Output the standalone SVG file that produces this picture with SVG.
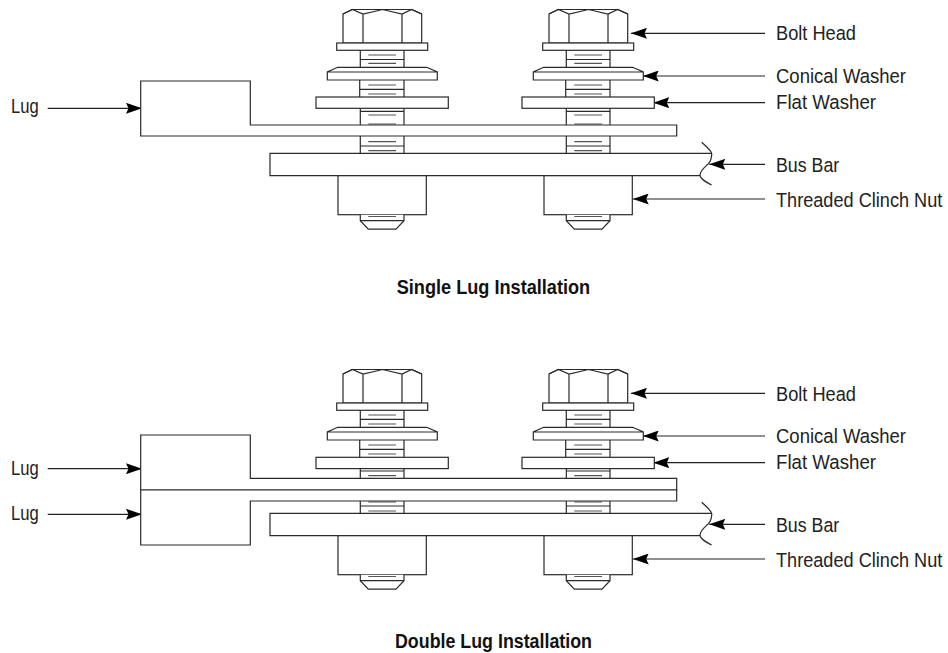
<svg xmlns="http://www.w3.org/2000/svg" xmlns:xlink="http://www.w3.org/1999/xlink" width="948" height="653" viewBox="0 0 948 653">
<style>
.s{fill:#fff;stroke:#2a2a2a;stroke-width:1.2;stroke-linejoin:miter}
.o{fill:none;stroke:#2a2a2a;stroke-width:1.2}
.t{fill:none;stroke:#555;stroke-width:1.2}
.c{fill:none;stroke:#222;stroke-width:1.2}
text{font-family:"Liberation Sans",Arial,sans-serif;font-size:20.500px;fill:#222}
.b{font-weight:bold;font-size:20px;fill:#111}
</style>
<defs>
<marker id="ah" viewBox="0 0 16 11" refX="16" refY="5.500" markerUnits="userSpaceOnUse" markerWidth="16" markerHeight="11" orient="auto"><path d="M0 0L16 5.500L0 11L2.500 5.500Z" fill="#000"/></marker>
<g id="head">
<path class="s" d="M343 14L352.300 9.500H411.700L421.700 14V43H343Z"/>
<path class="o" d="M343 14L352.300 9.500L363 14L382.500 9.500L402 14L411.700 9.500L421.700 14M363 14V43M402 14V43"/>
<rect class="s" x="336.700" y="43" width="91" height="7.300"/>
</g>
<path id="cone" class="s" d="M337.700 67.300H426.700L437.300 72V80H327.300V72ZM327.300 72H437.300"/>
<rect id="flat" class="s" x="316" y="97" width="132.300" height="11.300"/>
<g id="tail">
<rect class="s" x="338" y="0" width="88.300" height="39"/>
<path class="s" d="M360.300 39V45L368.300 53.500H396L404 45V39"/>
<path class="o" d="M360.300 45H404"/>
</g>
<path id="end" class="o" d="M701.700 142.300C707 147 711 151 711.700 153.300C712 158 710 162 709 163C705 167 700.500 170 700 175C700 179 706 182 711.700 185"/>
</defs>

<g id="connectors" class="arrows">
<path class="c" marker-end="url(#ah)" d="M765 33.300H631"/>
<path class="c" marker-end="url(#ah)" d="M765 76H642.700"/>
<path class="c" marker-end="url(#ah)" d="M765 102.700H653.300"/>
<path class="c" marker-end="url(#ah)" d="M765 164.300H709.300"/>
<path class="c" marker-end="url(#ah)" d="M765 199H632.700"/>
<path class="c" marker-end="url(#ah)" d="M47.700 108.300H142"/>
<path class="c" marker-end="url(#ah)" d="M765 393.300H631"/>
<path class="c" marker-end="url(#ah)" d="M765 436H642.700"/>
<path class="c" marker-end="url(#ah)" d="M765 462.700H653.300"/>
<path class="c" marker-end="url(#ah)" d="M765 524.300H709.300"/>
<path class="c" marker-end="url(#ah)" d="M765 559H632.700"/>
<path class="c" marker-end="url(#ah)" d="M47.700 468.700H142"/>
<path class="c" marker-end="url(#ah)" d="M47.700 514.300H142"/>
</g>

<g id="single-shanks">
<path id="sh1" class="o" d="M360.300 50V67M404 50V67M360.300 59.500H404M359.700 80V97M404 80V97M359.700 89.300H404M360.300 108V125M404 108V125M360.300 111.300H404M360.300 136V153.300M404 136V153.300M360.300 146H404"/>
<path id="th1" class="t" d="M368.300 55H396M368.300 63.300H396M368.300 85H396M368.300 94H396M368.300 115H396M368.300 124H396M368.300 141.700H396M368.300 150.700H396"/>
<use xlink:href="#sh1" x="206"/><use xlink:href="#th1" x="206"/>
</g>
<g id="single-bolt-1"><use xlink:href="#head"/><use xlink:href="#cone"/><use xlink:href="#flat"/></g>
<g id="single-bolt-2"><use xlink:href="#head" x="206"/><use xlink:href="#cone" x="206"/><use xlink:href="#flat" x="206"/></g>
<g id="single-lug"><path class="s" d="M140.700 81H250.300V125H676.700V136H140.700Z"/></g>
<g id="single-bus"><path class="o" d="M711.700 153.300H270V175.700H700"/><use xlink:href="#end"/></g>
<g id="single-nut-1"><use xlink:href="#tail" y="175.700"/></g>
<g id="single-nut-2"><use xlink:href="#tail" x="206" y="175.700"/></g>
<path id="th1b" class="t" d="M368.300 216.500H396M574.300 216.500H602"/>

<g id="double-shanks">
<path id="sh2" class="o" d="M360.300 410V427M404 410V427M360.300 419.300H404M359.700 440V457M404 440V457M359.700 449.300H404M360.300 468V478M404 468V478M360.300 471H404M360.300 501V513.500M404 501V513.500M360.300 506H404"/>
<path id="th2" class="t" d="M368.300 415H396M368.300 424H396M368.300 445H396M368.300 454H396M368.300 475.700H396M368.300 502H396M368.300 511H396"/>
<use xlink:href="#sh2" x="206"/><use xlink:href="#th2" x="206"/>
</g>
<g id="double-bolt-1"><use xlink:href="#head" y="360"/><use xlink:href="#cone" y="360"/><use xlink:href="#flat" y="360.300"/></g>
<g id="double-bolt-2"><use xlink:href="#head" x="206" y="360"/><use xlink:href="#cone" x="206" y="360"/><use xlink:href="#flat" x="206" y="360.300"/></g>
<g id="double-lug-upper"><path class="s" d="M140.700 435H250.300V478.300H676.700V490H140.700Z"/></g>
<g id="double-lug-lower"><path class="s" d="M140.700 490H676.700V501H250.300V545H140.700Z"/></g>
<g id="double-bus"><path class="o" d="M711.700 513.300H270V535.700H700"/><use xlink:href="#end" y="360"/></g>
<g id="double-nut-1"><use xlink:href="#tail" y="535.700"/></g>
<g id="double-nut-2"><use xlink:href="#tail" x="206" y="535.700"/></g>
<path id="th2b" class="t" d="M368.300 576.500H396M574.300 576.500H602"/>

<g id="labels">
<text x="11" y="112.500" textLength="27.700" lengthAdjust="spacingAndGlyphs">Lug</text>
<text x="776" y="40" textLength="80" lengthAdjust="spacingAndGlyphs">Bolt Head</text>
<text x="776" y="83" textLength="130" lengthAdjust="spacingAndGlyphs">Conical Washer</text>
<text x="776" y="108.500" textLength="100" lengthAdjust="spacingAndGlyphs">Flat Washer</text>
<text x="776" y="172.300" textLength="63.300" lengthAdjust="spacingAndGlyphs">Bus Bar</text>
<text transform="translate(776 207.300) scale(.885 1)">Threaded Clinch Nut</text>
<text class="b" x="396.700" y="294" textLength="193.500" lengthAdjust="spacingAndGlyphs">Single Lug Installation</text>
<text x="11" y="474.500" textLength="27.700" lengthAdjust="spacingAndGlyphs">Lug</text>
<text x="11" y="520" textLength="27.700" lengthAdjust="spacingAndGlyphs">Lug</text>
<text x="776" y="401" textLength="80" lengthAdjust="spacingAndGlyphs">Bolt Head</text>
<text x="776" y="442.500" textLength="130" lengthAdjust="spacingAndGlyphs">Conical Washer</text>
<text x="776" y="468.500" textLength="100" lengthAdjust="spacingAndGlyphs">Flat Washer</text>
<text x="776" y="532.300" textLength="63.300" lengthAdjust="spacingAndGlyphs">Bus Bar</text>
<text transform="translate(776 567.300) scale(.885 1)">Threaded Clinch Nut</text>
<text class="b" x="395" y="648" textLength="197" lengthAdjust="spacingAndGlyphs">Double Lug Installation</text>
</g>
</svg>
